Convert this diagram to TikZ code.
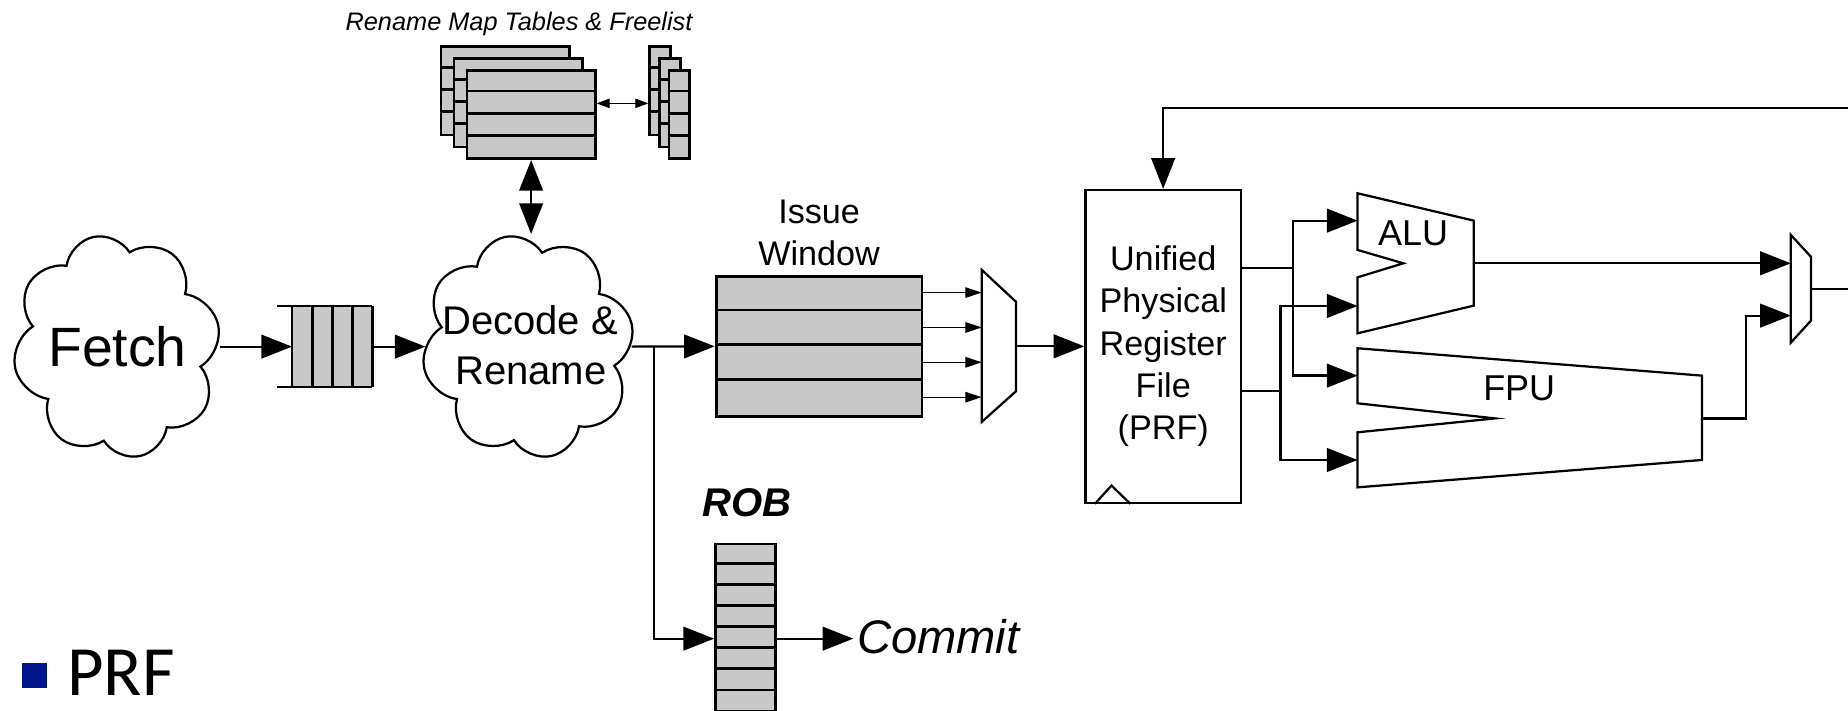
\documentclass[tikz,border=0pt]{standalone}
\usepackage{fontspec}
\setmainfont{Liberation Sans}
\newfontfamily\calibfont{Carlito}
\usetikzlibrary{arrows.meta,shapes.symbols}
\definecolor{cellgray}{RGB}{200,200,200}
\definecolor{bulletblue}{RGB}{0,20,140}
\begin{document}
\begin{tikzpicture}[x=1pt,y=-1pt,
  wire/.style={line width=1.9pt},
  arr/.style={wire,-{Triangle[length=26pt,width=20pt]}},
  darr/.style={wire,{Triangle[length=26pt,width=20pt]}-{Triangle[length=26pt,width=20pt]}},
  thinarr/.style={line width=1pt,-{Triangle[length=14pt,width=9pt]}},
  smalldarr/.style={line width=1pt,{Triangle[length=11pt,width=8pt]}-{Triangle[length=11pt,width=8pt]}},
  tbl/.style={draw,fill=cellgray,line width=2.3pt,inner sep=0,anchor=north west},
  cell/.style={line width=2.3pt},
  blk/.style={draw,line width=1.9pt,inner sep=0,line join=miter},
  lbl/.style={inner sep=0,anchor=base},
  cloudbox/.style={cloud,draw,line width=1.9pt,cloud puffs=8,cloud puff arc=140,cloud ignores aspect,inner sep=0},
]
\useasboundingbox (0,0) rectangle (1568,603);

% title
\node[lbl,font=\fontsize{21.5}{25}\selectfont\itshape] (title) at (440.4,25.5) {Rename Map Tables \& Freelist};

% rename map tables and freelist
\foreach \n/\px/\py/\w in {mtA/373/38.5/109pt, mtB/384/48.5/109pt, mtC/395/58.5/109pt, flA/550/38.5/17.5pt, flB/558.5/48.5/17.5pt, flC/566.5/58.5/17.5pt}{
  \node[tbl,minimum width=\w,minimum height=75pt] (\n) at (\px,\py) {};
  \foreach \k in {1,2,3}
    \draw[cell] ([yshift={-\k*18.75pt}]\n.north west) -- ([yshift={-\k*18.75pt}]\n.north east);
}
\coordinate (fly) at (0,87.7);
\draw[smalldarr] (mtC.east |- fly) -- (flA.west |- fly);

% clouds
\node[cloudbox,minimum width=176pt,minimum height=190pt,rotate=12] (fetch) at (99,294) {};
\node[lbl,font=\fontsize{47}{56}\selectfont] (fetchtxt) at (99.7,311) {Fetch};
\node[cloudbox,minimum width=180pt,minimum height=190pt,rotate=12] (decode) at (448,294) {};
\node[lbl,font=\fontsize{34}{43}\selectfont] (dec1) at (449.8,283.6) {Decode \&};
\node[lbl,font=\fontsize{34}{43}\selectfont] (dec2) at (450.5,326.6) {Rename};

\coordinate (dtop) at (0,198.5);
\draw[darr] (mtC.south) -- (mtC.south |- dtop);

% fetch queue
\node[fill=cellgray,inner sep=0,minimum width=68pt,minimum height=69pt] (queue) at (282,294.1) {};
\foreach \qx in {248,265,282,299,316} \draw[line width=2pt] (\qx,259.6) -- (\qx,328.6);
\draw[line width=2pt] (235,259.6) -- (316,259.6) (235,328.6) -- (316,328.6);
\coordinate (fetchR) at (187,294.1);
\coordinate (decL) at (361,294.1);
\coordinate (decR) at (536,294.1);
\draw[arr] (fetchR) -- (queue.west);
\draw[arr] (queue.east) -- (decL);

% issue window
\node[draw,fill=cellgray,line width=2.5pt,inner sep=0,minimum width=174.6pt,minimum height=118.3pt] (iw) at (695,293.85) {};
\foreach \k in {1,2,3}
  \draw[line width=2.5pt] ([yshift={-\k*29.575pt}]iw.north west) -- ([yshift={-\k*29.575pt}]iw.north east);
\node[lbl,font=\fontsize{29}{36}\selectfont] (iwl1) at (695,189.5) {Issue};
\node[lbl,font=\fontsize{29}{36}\selectfont] (iwl2) at (695,224.9) {Window};
\draw[arr] (decR) -- (iw.west);

% issue mux
\coordinate (m1a) at (833,229);
\coordinate (m1b) at (862,256);
\coordinate (m1c) at (862,332);
\coordinate (m1d) at (833,358);
\draw[blk] (m1a) -- (m1b) -- (m1c) -- (m1d) -- cycle;
\foreach \k in {0,1,2,3}{
  \coordinate (o\k) at ([yshift={-(14.8+\k*29.575)*1pt}]iw.north east);
  \draw[thinarr] (o\k) -- (o\k -| m1a);
}

% PRF
\node[blk,minimum width=131.8pt,minimum height=265.3pt] (prf) at (986.9,293.85) {};
\draw[wire] ([xshift=9pt]prf.south west) -- ([xshift=23pt,yshift=15.5pt]prf.south west) -- ([xshift=39pt]prf.south west);
\foreach \t [count=\i from 0] in {Unified,Physical,Register,File,(PRF)}
  \node[lbl,font=\fontsize{29}{36}\selectfont] (prft\i) at (987,{229.8+35.75*\i}) {\t};
\draw[arr] (prf.west -| m1b) -- (prf.west);

% feedback
\coordinate (fbR) at (1568,91.9);
\draw[arr] (fbR) -| (prf.north);

% ALU
\coordinate (aluA) at (1151.9,164);
\coordinate (aluB) at (1250.5,187.2);
\coordinate (aluC) at (1250.5,259.3);
\coordinate (aluD) at (1151.9,282.8);
\coordinate (aluE) at (1151.9,235.3);
\coordinate (aluF) at (1190.7,223.4);
\coordinate (aluG) at (1151.9,212.1);
\draw[blk] (aluA) -- (aluB) -- (aluC) -- (aluD) -- (aluE) -- (aluF) -- (aluG) -- cycle;
\node[lbl,font=\fontsize{30.5}{36}\selectfont] (alutxt) at (1199,208.4) {ALU};
\coordinate (aluIn1) at (1151.9,187.2);
\coordinate (aluIn2) at (1151.9,259.6);
\coordinate (aluOut) at (1250.5,223.4);

% FPU
\coordinate (fpuA) at (1151.9,295.5);
\coordinate (fpuB) at (1444,318.7);
\coordinate (fpuC) at (1444,390.3);
\coordinate (fpuD) at (1151.9,413.5);
\coordinate (fpuE) at (1151.9,366.8);
\coordinate (fpuF) at (1268.6,355);
\coordinate (fpuG) at (1151.9,342.2);
\draw[blk] (fpuA) -- (fpuB) -- (fpuC) -- (fpuD) -- (fpuE) -- (fpuF) -- (fpuG) -- cycle;
\node[lbl,font=\fontsize{30.5}{36}\selectfont] (fputxt) at (1289,340) {FPU};
\coordinate (fpuIn1) at (1151.9,318.7);
\coordinate (fpuIn2) at (1151.9,390.3);
\coordinate (fpuOut) at (1444,355);

% PRF to units
\coordinate (jA) at (1096.8,227.7);
\coordinate (jB) at (1086.5,331.5);
\draw[wire] (prf.east |- jA) -- (jA);
\draw[arr] (jA) |- (aluIn1);
\draw[arr] (jA) |- (fpuIn1);
\draw[wire] (prf.east |- jB) -- (jB);
\draw[arr] (jB) |- (aluIn2);
\draw[arr] (jB) |- (fpuIn2);

% output mux
\coordinate (m2a) at (1519.5,199.4);
\coordinate (m2b) at (1536.5,217.8);
\coordinate (m2c) at (1536.5,272.1);
\coordinate (m2d) at (1519.5,290.7);
\draw[blk] (m2a) -- (m2b) -- (m2c) -- (m2d) -- cycle;
\draw[arr] (aluOut) -- (aluOut -| m2a);
\coordinate (fj) at (1481.4,267.8);
\draw[arr] (fpuOut) -| (fj) -- (fj -| m2a);
\coordinate (outR) at (1568,245.5);
\draw[wire] (m2b |- outR) -- (outR);

% ROB
\node[lbl,font=\fontsize{34}{40}\selectfont\bfseries\itshape] (roblbl) at (634,438.4) {ROB};
\begin{scope}
\clip (0,0) rectangle (1568,603);
\node[draw,fill=cellgray,line width=2.3pt,inner sep=0,minimum width=50.7pt,minimum height=160.65pt,anchor=north] (rob) at (632.4,460.4) {};
\foreach \k in {1,...,8}
  \draw[cell] ([yshift={-\k*17.85pt}]rob.north west) -- ([yshift={-\k*17.85pt}]rob.north east);
\end{scope}
\coordinate (br) at (555,294.1);
\draw[arr] (br) |- (rob.west);
\node[anchor=base west,inner sep=0,font=\fontsize{40}{48}\selectfont\itshape] (commit) at (727,554.3) {Commit};
\draw[arr] (rob.east) -- ([xshift=-3pt]rob.east -| commit.west);

% bullet
\node[fill=bulletblue,inner sep=0,minimum size=21.2pt] (bullet) at (29,573.4) {};
\node[anchor=base west,inner sep=0,font=\calibfont\fontsize{60}{72}\selectfont] (prfbul) at (57,589.7) {PRF};
\end{tikzpicture}
\end{document}
